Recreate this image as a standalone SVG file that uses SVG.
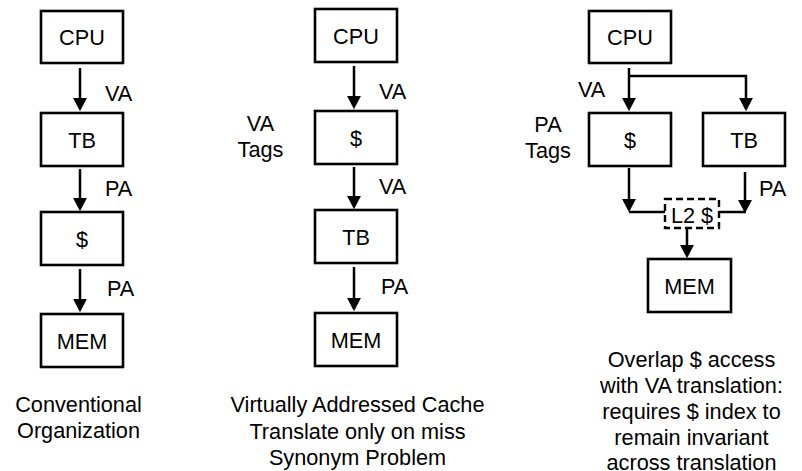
<svg xmlns="http://www.w3.org/2000/svg" width="802" height="471" viewBox="0 0 802 471">
<defs>
<style>
text{font-family:"Liberation Sans",Arial,sans-serif;font-size:21.7px;fill:#000}
.c{text-anchor:middle}
.box{fill:#fff;stroke:#000;stroke-width:2.6}
.dash{fill:#fff;stroke:#000;stroke-width:2.4;stroke-dasharray:7 4}
.ln{fill:none;stroke:#000;stroke-width:2.5}
.ar{fill:none;stroke:#000;stroke-width:2.5;marker-end:url(#ah)}
</style>
<marker id="ah" markerUnits="userSpaceOnUse" markerWidth="14" markerHeight="14" refX="2" refY="6.5" orient="auto" viewBox="0 0 13 13">
<path d="M0,0 L12.5,6.5 L0,13 Z" fill="#000"/>
</marker>
</defs>
<rect width="802" height="471" fill="#fff"/>
<g id="connectors">
<line class="ar" x1="80" y1="68" x2="80" y2="100"/>
<line class="ar" x1="80" y1="169" x2="80" y2="200"/>
<line class="ar" x1="80" y1="269" x2="80" y2="301"/>
<line class="ar" x1="354" y1="66" x2="354" y2="98"/>
<line class="ar" x1="354" y1="167" x2="354" y2="198"/>
<line class="ar" x1="354" y1="267" x2="354" y2="300"/>
<line class="ar" x1="629" y1="68" x2="629" y2="100"/>
<path class="ar" d="M629,76 H746 V100"/>
<line class="ar" x1="629" y1="168" x2="629" y2="201"/>
<line class="ln" x1="629" y1="212" x2="665" y2="212"/>
<line class="ar" x1="745" y1="172" x2="745" y2="202"/>
<line class="ln" x1="719" y1="212" x2="746" y2="212"/>
<line class="ar" x1="687" y1="228" x2="687" y2="247"/>
</g>
<g id="labels">
<text x="105" y="101">VA</text>
<text x="105" y="196">PA</text>
<text x="107" y="296">PA</text>
<text x="379" y="99">VA</text>
<text x="379" y="194">VA</text>
<text x="381" y="294">PA</text>
<text class="c" x="260.5" y="131">VA</text>
<text class="c" x="260.5" y="157">Tags</text>
<text x="578" y="97">VA</text>
<text class="c" x="548" y="132">PA</text>
<text class="c" x="548" y="158">Tags</text>
<text x="759" y="196">PA</text>
</g>
<g id="c1-cpu"><rect class="box" x="41" y="11" width="82" height="52"/><text class="c" x="82" y="45">CPU</text></g>
<g id="c1-tb"><rect class="box" x="41" y="113" width="82" height="53"/><text class="c" x="82" y="147.5">TB</text></g>
<g id="c1-cache"><rect class="box" x="41" y="212" width="82" height="53"/><text class="c" x="82" y="246.5">$</text></g>
<g id="c1-mem"><rect class="box" x="41" y="314" width="82" height="53"/><text class="c" x="82" y="348.5">MEM</text></g>
<g id="c2-cpu"><rect class="box" x="315" y="9" width="82" height="53"/><text class="c" x="356" y="43.5">CPU</text></g>
<g id="c2-cache"><rect class="box" x="315" y="111" width="82" height="53"/><text class="c" x="356" y="145.5">$</text></g>
<g id="c2-tb"><rect class="box" x="315" y="210" width="82" height="53"/><text class="c" x="356" y="244.5">TB</text></g>
<g id="c2-mem"><rect class="box" x="315" y="313" width="82" height="53"/><text class="c" x="356" y="347.5">MEM</text></g>
<g id="c3-cpu"><rect class="box" x="589" y="11" width="82" height="52"/><text class="c" x="630" y="45">CPU</text></g>
<g id="c3-cache"><rect class="box" x="589" y="113" width="82" height="53"/><text class="c" x="630" y="147.5">$</text></g>
<g id="c3-tb"><rect class="box" x="703" y="113" width="82" height="53"/><text class="c" x="744" y="147.5">TB</text></g>
<g id="c3-l2"><rect class="dash" x="665" y="199" width="54" height="29"/><text class="c" x="692" y="223">L2 $</text></g>
<g id="c3-mem"><rect class="box" x="648" y="259" width="83" height="53"/><text class="c" x="689.5" y="293.5">MEM</text></g>
<g id="captions">
<text class="c" x="78.5" y="412">Conventional</text>
<text class="c" x="78.5" y="438">Organization</text>
<text class="c" x="357.5" y="412">Virtually Addressed Cache</text>
<text class="c" x="357.5" y="439">Translate only on miss</text>
<text class="c" x="357.5" y="465">Synonym Problem</text>
<text class="c" x="691.5" y="367">Overlap $ access</text>
<text class="c" x="691.5" y="393">with VA translation:</text>
<text class="c" x="691.5" y="419">requires $ index to</text>
<text class="c" x="691.5" y="445">remain invariant</text>
<text class="c" x="691.5" y="470">across translation</text>
</g>
</svg>
